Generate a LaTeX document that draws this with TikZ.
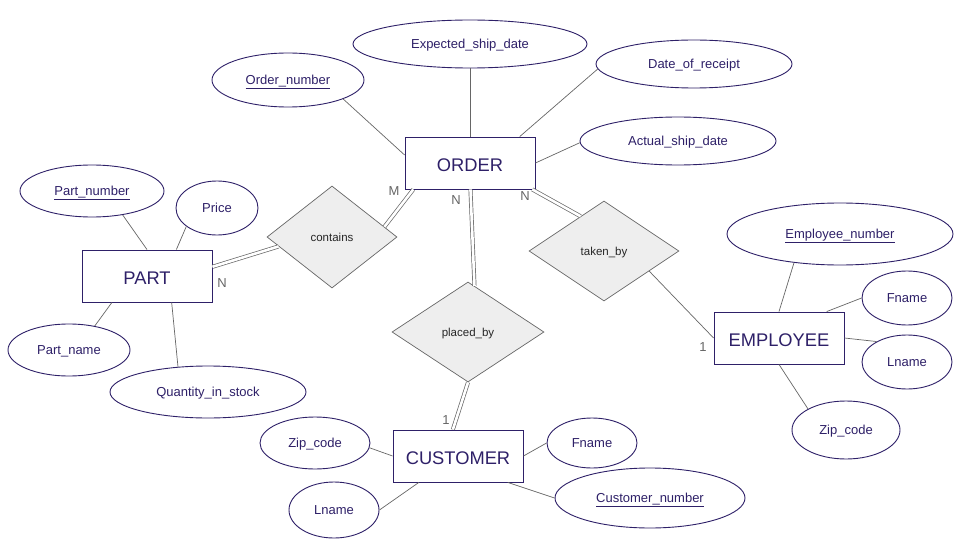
\documentclass[tikz,border=0pt]{standalone}
\usepackage{fontspec}
\setmainfont{Liberation Sans}
\usetikzlibrary{shapes.geometric}
\definecolor{navy}{HTML}{2E2068}
\definecolor{lgray}{HTML}{666666}
\definecolor{dfill}{HTML}{EEEEEE}
\tikzset{
  ent/.style={draw=navy, line width=0.9pt, fill=white, minimum width=130pt, minimum height=52pt, inner sep=0pt, text=navy, font=\fontsize{18.3}{20}\selectfont, text height=17pt, text depth=0pt},
  attr/.style={ellipse, draw=navy, line width=0.9pt, fill=white, inner sep=0pt, text=navy, font=\fontsize{13}{15}\selectfont, text height=11pt, text depth=2pt},
  rel/.style={diamond, draw=lgray, line width=0.7pt, fill=dfill, inner sep=0pt, text=black!85, font=\fontsize{11.5}{13}\selectfont, text height=8.5pt, text depth=0pt},
  conn/.style={draw=lgray, line width=0.7pt},
  dconn/.style={draw=lgray, line width=0.7pt, double=white, double distance=2.6pt},
  card/.style={text=lgray, font=\fontsize{13}{15}\selectfont, inner sep=0pt},
}
\begin{document}
\begin{tikzpicture}[x=1pt, y=-1pt]
\useasboundingbox[fill=white] (0,0) rectangle (960,540);
% entities
\node[ent] (order) at (470,163) {ORDER};
\node[ent] (part) at (147,276) {PART};
\node[ent] (emp) at (779,338) {EMPLOYEE};
\node[ent] (cust) at (458,456) {CUSTOMER};
% relationships
\node[rel, minimum width=130pt, minimum height=102pt] (contains) at (332,237) {contains};
\node[rel, minimum width=150pt, minimum height=100pt] (taken) at (604,251) {taken\_by};
\node[rel, minimum width=152pt, minimum height=100pt] (placed) at (468,332) {placed\_by};
% attributes
\node[attr, minimum width=152pt, minimum height=54pt] (ordnum) at (288,80) {\underline{Order\_number}};
\node[attr, minimum width=234pt, minimum height=48pt] (expdate) at (470,44) {Expected\_ship\_date};
\node[attr, minimum width=196pt, minimum height=48pt] (dor) at (694,64) {Date\_of\_receipt};
\node[attr, minimum width=196pt, minimum height=48pt] (asd) at (678,141) {Actual\_ship\_date};
\node[attr, minimum width=144pt, minimum height=52pt] (partnum) at (92,191) {\underline{Part\_number}};
\node[attr, minimum width=82pt, minimum height=54pt] (price) at (217,208) {Price};
\node[attr, minimum width=122pt, minimum height=52pt] (partname) at (69,350) {Part\_name};
\node[attr, minimum width=196pt, minimum height=52pt] (qty) at (208,392) {Quantity\_in\_stock};
\node[attr, minimum width=226pt, minimum height=62pt] (empnum) at (840,234) {\underline{Employee\_number}};
\node[attr, minimum width=90pt, minimum height=54pt] (efname) at (907,298) {Fname};
\node[attr, minimum width=90pt, minimum height=54pt] (elname) at (907,362) {Lname};
\node[attr, minimum width=108pt, minimum height=58pt] (ezip) at (846,430) {Zip\_code};
\node[attr, minimum width=110pt, minimum height=52pt] (czip) at (315,443) {Zip\_code};
\node[attr, minimum width=90pt, minimum height=56pt] (clname) at (334,510) {Lname};
\node[attr, minimum width=90pt, minimum height=50pt] (cfname) at (592,443) {Fname};
\node[attr, minimum width=190pt, minimum height=60pt] (cnum) at (650,498) {\underline{Customer\_number}};
% attribute connectors
\draw[conn] (ordnum.-19) -- (order.173);
\draw[conn] (expdate.south) -- (order.north);
\draw[conn] (dor.183) -- (order.28);
\draw[conn] (asd.181) -- (order.east);
\draw[conn] (partnum.-38) -- (part.north);
\draw[conn] (price.211) -- (part.42);
\draw[conn] (partname.43) -- (part.-143);
\draw[conn] (qty.140) -- (part.-47);
\draw[conn] (empnum.212) -- (emp.north);
\draw[conn] (efname.west) -- (emp.29);
\draw[conn] (elname.146) -- (emp.east);
\draw[conn] (ezip.151) -- (emp.south);
\draw[conn] (czip.-5) -- (cust.west);
\draw[conn] (clname.east) -- (cust.-146);
\draw[conn] (cfname.west) -- (cust.east);
\draw[conn] (cnum.west) -- (cust.-28);
% relationship connectors
\draw[dconn] (order.-155) -- (contains.11);
\draw[dconn] (part.8) -- (contains.190);
\draw[dconn] (order.-89) -- (placed.82);
\draw[dconn] (placed.south) -- (cust.101);
\draw[dconn] (order.-23) -- (taken.124);
\draw[conn] (taken.-24) -- (emp.west);
% cardinalities
\node[card] (cM) at (394,191) {M};
\node[card] (cN1) at (222,283) {N};
\node[card] (cN2) at (456,200) {N};
\node[card] (cN3) at (525,196) {N};
\node[card] (c11) at (446,420) {1};
\node[card] (c12) at (703,347) {1};
\end{tikzpicture}
\end{document}
